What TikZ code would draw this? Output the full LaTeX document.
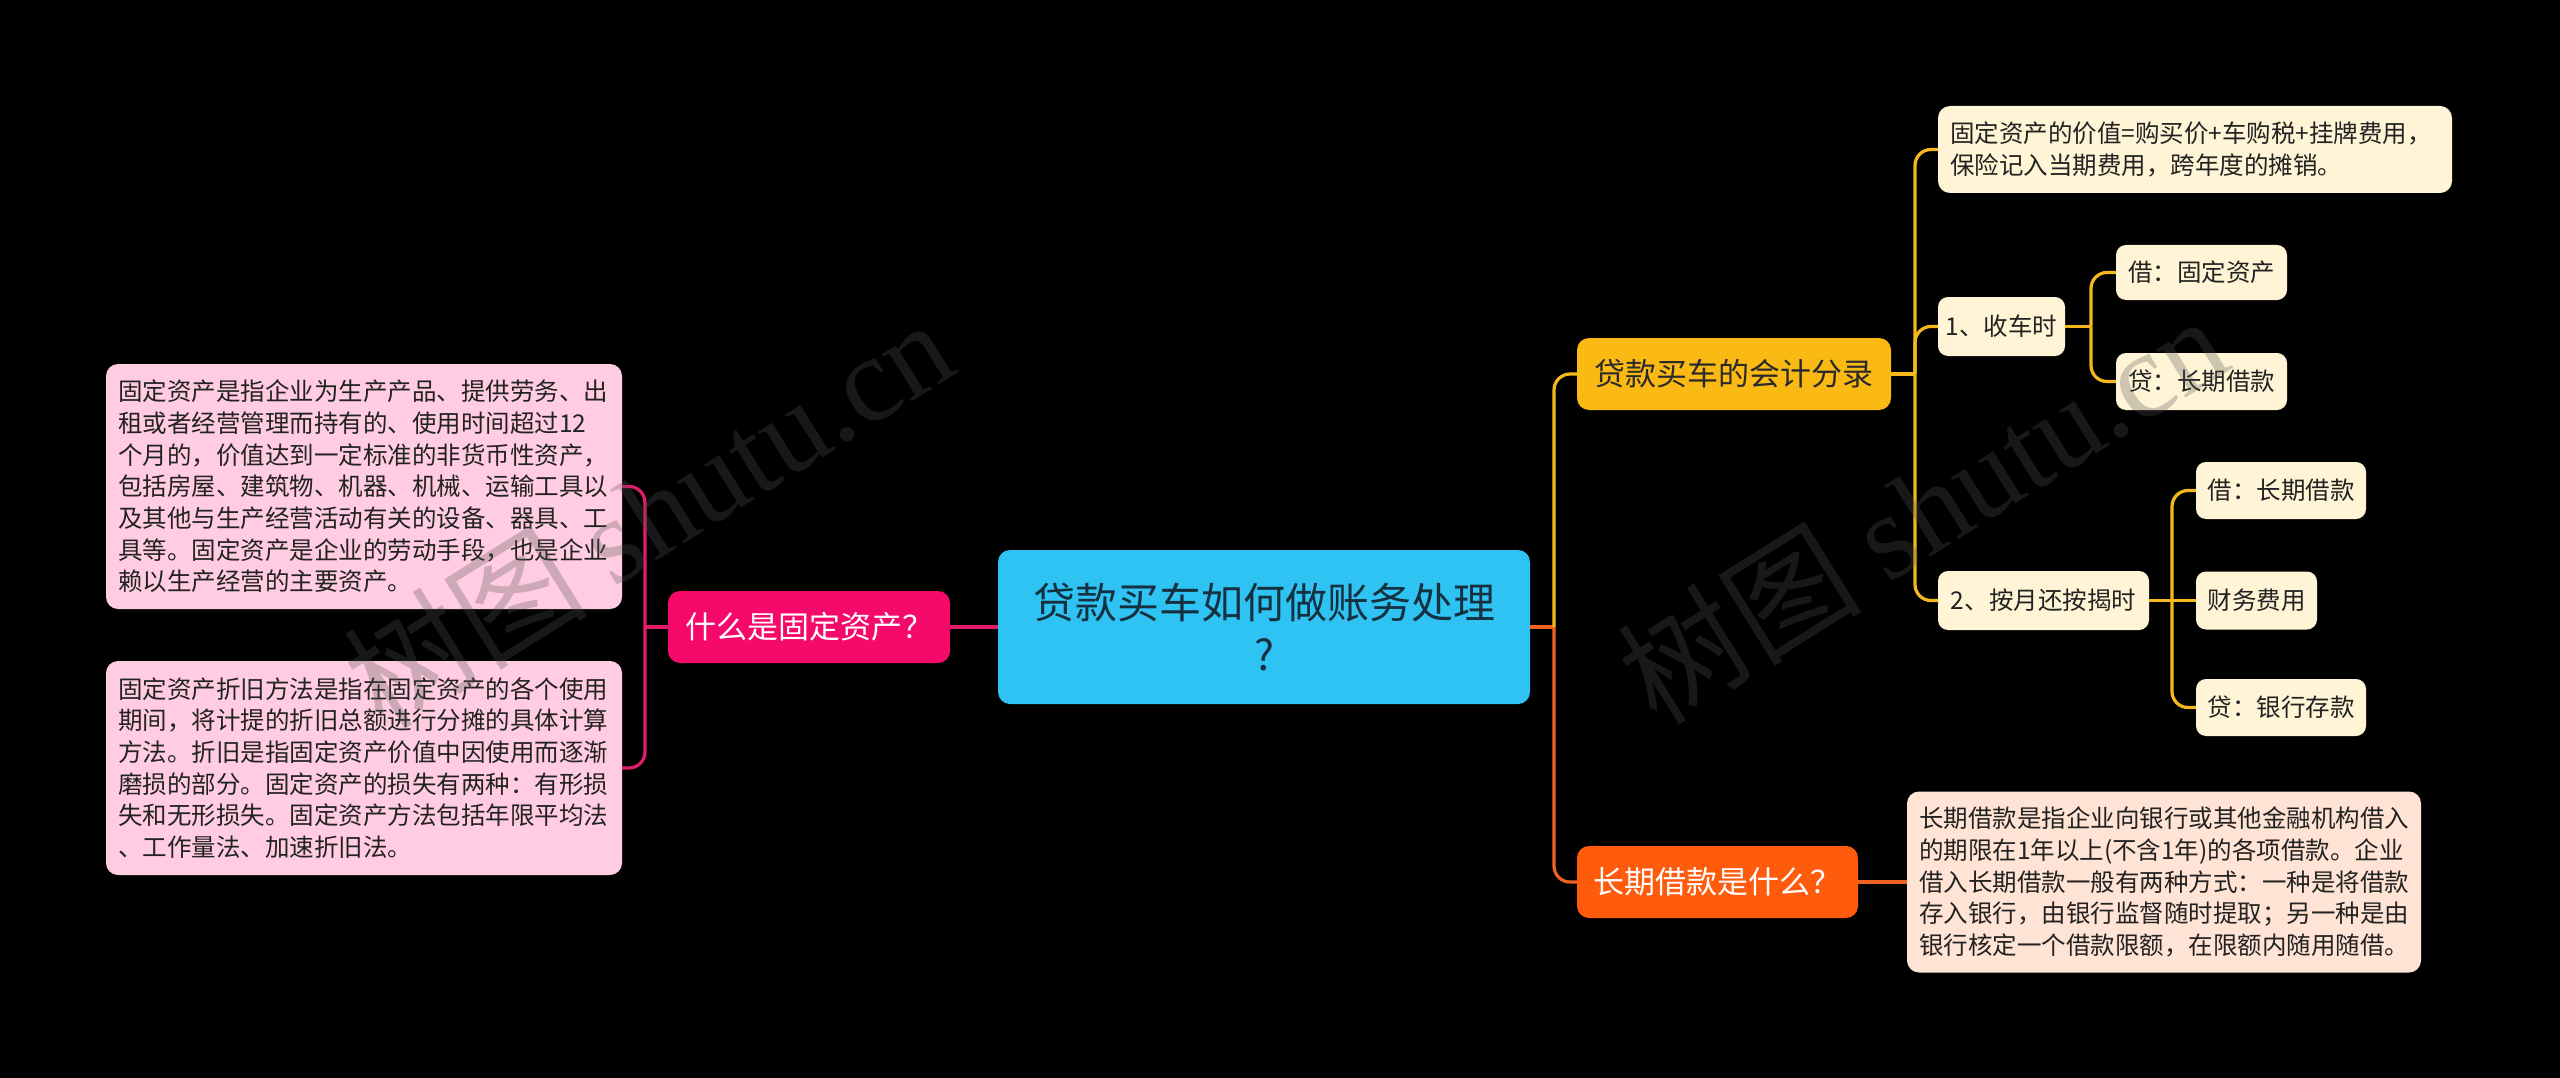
\documentclass[tikz,border=0pt]{standalone}
\usepackage{fontspec}
\setmainfont{Noto Sans CJK SC}
\newfontfamily\wmfont{Liberation Serif}
\definecolor{rootblue}{HTML}{2FC3F3}
\definecolor{roottext}{HTML}{15303F}
\definecolor{pinkm}{HTML}{F5096B}
\definecolor{pinkline}{HTML}{E31B6D}
\definecolor{pinkl}{HTML}{FFCCE1}
\definecolor{yel}{HTML}{FBB914}
\definecolor{yline}{HTML}{F6B91C}
\definecolor{ytext}{HTML}{2A2A2A}
\definecolor{org}{HTML}{FF5B0C}
\definecolor{oline}{HTML}{F0621F}
\definecolor{peach}{HTML}{FFE3D4}
\definecolor{cream}{HTML}{FFF4D5}
\definecolor{dtext}{HTML}{222222}
\definecolor{wmgray}{RGB}{84,84,84}
\begin{document}
\begin{tikzpicture}[x=1pt,y=-1pt,
  base/.style={rounded corners=12pt, inner sep=0pt, outer sep=0pt, text=dtext},
  lvl1/.style={base, font=\fontsize{31}{38}\selectfont, minimum height=72pt},
  desc/.style={base, align=left, font=\fontsize{24.5}{31.7}\selectfont, inner xsep=12pt},
  small/.style={base, rounded corners=10pt, fill=cream, font=\fontsize{24.5}{30}\selectfont, minimum height=57pt},
  conn/.style={line width=3.2pt, rounded corners=16pt},
  wm/.style={rotate=32, text=wmgray, opacity=0.29, font=\fontsize{122}{130}\selectfont},
]
\fill[black] (0,0) rectangle (2560,1078);
\useasboundingbox (0,0) rectangle (2560,1078);

% nodes
\node[base, fill=rootblue, text=roottext, minimum width=532pt, minimum height=154pt, align=center, font=\fontsize{42}{52}\selectfont] (root) at (1264,627) {贷款买车如何做账务处理\\?};

\node[lvl1, fill=pinkm, text=white, minimum width=282pt] (what) at (809,627) {什么是固定资产？};
\node[desc, fill=pinkl, text width=492pt, minimum height=245pt] (def) at (364,486.5) {固定资产是指企业为生产产品、提供劳务、出\\租或者经营管理而持有的、使用时间超过12\\个月的，价值达到一定标准的非货币性资产，\\包括房屋、建筑物、机器、机械、运输工具以\\及其他与生产经营活动有关的设备、器具、工\\具等。固定资产是企业的劳动手段，也是企业\\赖以生产经营的主要资产。};
\node[desc, fill=pinkl, text width=492pt, minimum height=214pt] (dep) at (364,768) {固定资产折旧方法是指在固定资产的各个使用\\期间，将计提的折旧总额进行分摊的具体计算\\方法。折旧是指固定资产价值中因使用而逐渐\\磨损的部分。固定资产的损失有两种：有形损\\失和无形损失。固定资产方法包括年限平均法\\、工作量法、加速折旧法。};

\node[lvl1, fill=yel, text=ytext, minimum width=314pt] (entry) at (1734,374) {贷款买车的会计分录};
\node[lvl1, fill=org, text=white, minimum width=281pt] (loan) at (1717.5,882) {长期借款是什么？};
\node[desc, fill=peach, text width=490pt, minimum height=181pt] (loandef) at (2164,882) {长期借款是指企业向银行或其他金融机构借入\\的期限在1年以上(不含1年)的各项借款。企业\\借入长期借款一般有两种方式：一种是将借款\\存入银行，由银行监督随时提取；另一种是由\\银行核定一个借款限额，在限额内随用随借。};

\node[desc, fill=cream, text width=490pt, minimum height=87pt] (value) at (2195,149.5) {固定资产的价值=购买价+车购税+挂牌费用，\\保险记入当期费用，跨年度的摊销。};
\node[small, minimum width=127pt, minimum height=59pt] (recv) at (2001.5,326.5) {1、收车时};
\node[small, minimum width=171pt, minimum height=55pt] (d1) at (2201.5,272.5) {借：固定资产};
\node[small, minimum width=171pt] (c1) at (2201.5,381.5) {贷：长期借款};
\node[small, minimum width=211pt, minimum height=59pt] (pay) at (2043.5,600.5) {2、按月还按揭时};
\node[small, minimum width=170pt] (d2) at (2281,490.5) {借：长期借款};
\node[small, minimum width=121pt, minimum height=58pt] (fee) at (2256.5,600.5) {财务费用};
\node[small, minimum width=170pt] (c2) at (2281,707.5) {贷：银行存款};

% connectors left
\draw[conn, pinkline] (root.west) -- (what.east);
\draw[conn, pinkline] (what.west) -- ++(-23,0) coordinate (jl);
\draw[conn, pinkline] (jl) |- (def.east);
\draw[conn, pinkline] (jl) |- (dep.east);

% connectors right
\draw[conn, oline] (root.east) -- ++(24,0) coordinate (jr);
\draw[conn, yline] (jr) |- (entry.west);
\draw[conn, oline] (jr) |- (loan.west);
\draw[conn, oline] (loan.east) -- (loandef.west);

\draw[conn, yline] (entry.east) -- ++(24,0) coordinate (je);
\draw[conn, yline] (je) |- (value.west);
\draw[conn, yline] (je) |- (recv.west);
\draw[conn, yline] (je) |- (pay.west);

\draw[conn, yline] (recv.east) -- ++(26,0) coordinate (jrv);
\draw[conn, yline] (jrv) |- (d1.west);
\draw[conn, yline] (jrv) |- (c1.west);

\draw[conn, yline] (pay.east) -- ++(23,0) coordinate (jp);
\draw[conn, yline] (jp) |- (d2.west);
\draw[conn, yline] (jp) -- (fee.west);
\draw[conn, yline] (jp) |- (c2.west);

% watermarks
\node[wm] (wm1) at (648,512) {树图 {\wmfont shutu.cn}};
\node[wm] (wm2) at (1922,508) {树图 {\wmfont shutu.cn}};
\end{tikzpicture}
\end{document}
